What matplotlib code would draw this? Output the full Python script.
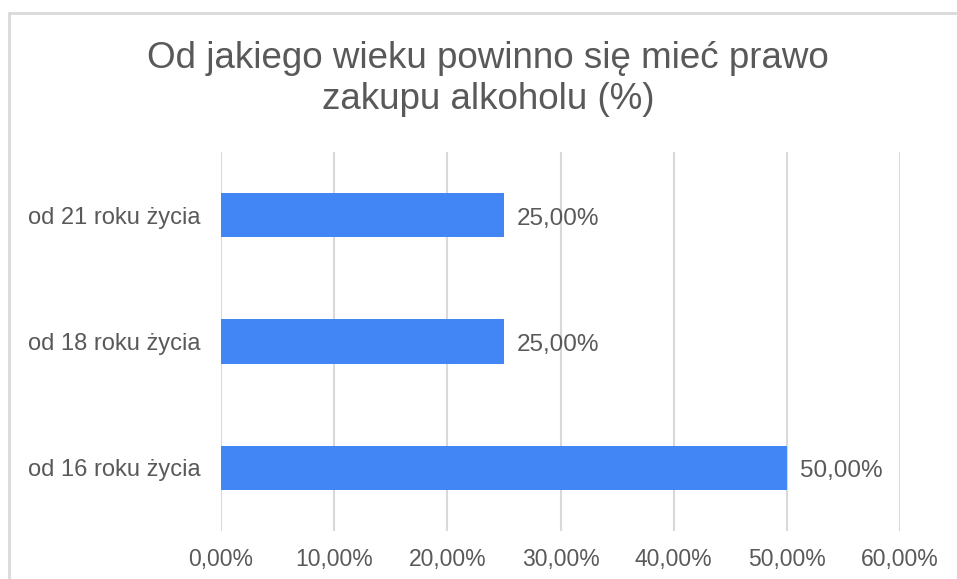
import matplotlib
matplotlib.use("Agg")
import matplotlib.pyplot as plt
from matplotlib.patches import Rectangle
from matplotlib.ticker import FuncFormatter

# data
categories = ["od 16 roku życia", "od 18 roku życia", "od 21 roku życia"]
values = [0.50, 0.25, 0.25]
title = "Od jakiego wieku powinno się mieć prawo\nzakupu alkoholu (%)"

W, H = 957, 579
BAR_COLOR = "#4285F4"
TEXT_COLOR = "#595959"
GRID_COLOR = "#D9D9D9"

plt.rcParams['font.family'] = ['Liberation Sans', 'DejaVu Sans']

fig = plt.figure(figsize=(W / 100, H / 100), dpi=100)

# outer chart border (only top and left visible in the crop)
fig.patches.append(Rectangle((8.5 / W, -0.05), 1.2, (H - 13) / H + 0.05, transform=fig.transFigure,
                             fill=False, edgecolor=GRID_COLOR, linewidth=2))

ax = fig.add_axes([221 / W, (H - 531) / H, (900 - 221) / W, (531 - 152) / H])
ax.barh(range(len(categories)), values, height=0.35, color=BAR_COLOR, zorder=3)
ax.set_xlim(0, 0.6)
ax.set_ylim(-0.5, len(categories) - 0.5)
ax.set_xticks([0, 0.1, 0.2, 0.3, 0.4, 0.5, 0.6])
ax.xaxis.set_major_formatter(FuncFormatter(lambda v, p: f"{v * 100:.2f}%".replace(".", ",")))
ax.set_yticks(range(len(categories)))
ax.set_yticklabels(categories)
ax.grid(axis='x', color=GRID_COLOR, linewidth=1.5, zorder=0)
for s in ax.spines.values():
    s.set_visible(False)
ax.tick_params(axis='x', length=0, pad=12, labelsize=16.5, labelcolor=TEXT_COLOR)
ax.tick_params(axis='y', length=0, pad=15, labelsize=17, labelcolor=TEXT_COLOR)

for i, v in enumerate(values):
    ax.annotate(f"{v * 100:.2f}%".replace(".", ","), (v, i), xytext=(9.5, -2.5), textcoords='offset points',
                va='center', ha='left', fontsize=17.5, color=TEXT_COLOR)

fig.text(488 / W, 1 - 79 / H, title, ha='center', va='center', fontsize=26.5, color=TEXT_COLOR,
         linespacing=1.2)

fig.savefig("out.png", dpi=100)
